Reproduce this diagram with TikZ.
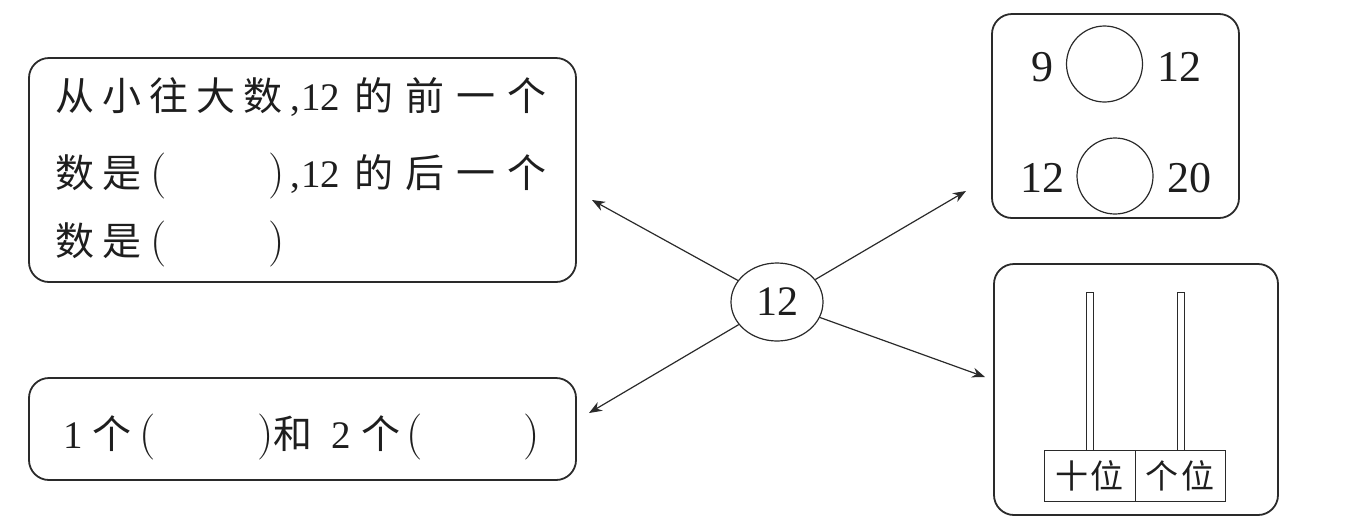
\documentclass[tikz,border=0pt]{standalone}
\usepackage{fontspec}
\setmainfont{Liberation Serif}
\newfontfamily\cjk{Noto Sans CJK SC}
\usetikzlibrary{arrows.meta,shapes.geometric}
\definecolor{ink}{HTML}{1E1E1E}
\definecolor{edge}{HTML}{2A2A2A}
\newcommand\zc[2]{\makebox[#1][c]{#2}}
\newcommand\fsz[1]{\fontsize{#1}{#1}\selectfont}
\newcommand\lmpar{\usefont{TU}{lmr}{m}{n}}
\begin{document}
\begin{tikzpicture}[x=0.5pt,y=-0.5pt,
  panel/.style={draw=edge,line width=0.9pt,rounded corners=10pt,inner sep=0},
  conn/.style={draw=edge,line width=0.6pt,-{Stealth[length=6.5pt,width=5pt]}},
  cj/.style={inner sep=0,text=ink,font=\cjk\fsz{19.5pt}},
  nm/.style={inner sep=0,text=ink,font=\fsz{19.5pt}},
  pr/.style={inner sep=0,text=ink,font=\lmpar\fsz{23pt}},
  big/.style={inner sep=0,text=ink,font=\fsz{22pt}},
  ring/.style={draw=edge,circle,line width=0.6pt,minimum size=38pt,inner sep=0},
  rod/.style={draw=edge,line width=0.4pt,inner sep=0,minimum width=3.5pt,minimum height=79pt},
  lab/.style={draw=edge,line width=0.4pt,inner sep=0,minimum height=25.5pt,text=ink,font=\cjk\fsz{16.5pt}}]
\useasboundingbox (0,0) rectangle (1348,531);

% panels
\node[panel,minimum width=273.5pt,minimum height=112pt] (pA) at (302.5,170) {};
\node[panel,minimum width=273.5pt,minimum height=51pt] (pB) at (302.5,429) {};
\node[panel,minimum width=123.5pt,minimum height=102pt] (pC) at (1115.5,116) {};
\node[panel,minimum width=142pt,minimum height=125.5pt] (pD) at (1136,389.5) {};

% centre
\node[draw=edge,ellipse,line width=0.6pt,minimum width=46pt,minimum height=39pt,inner sep=0,text=ink,font=\fsz{21pt}] (c) at (777,302) {12};
\coordinate (tA) at (592,200);
\coordinate (tB) at (589,413);
\coordinate (tC) at (966,191);
\coordinate (tD) at (985,377);
\draw[conn] (c) -- (tA);
\draw[conn] (c) -- (tB);
\draw[conn] (c) -- (tC);
\draw[conn] (c) -- (tD);

% box A text
\node[cj,anchor=base west] (a1) at (51.5,110) {\zc{23.5pt}{从}\zc{23.5pt}{小}\zc{23.5pt}{往}\zc{23.5pt}{大}\zc{23.5pt}{数}};
\node[nm,anchor=base west] (a2) at (290,110) {,\kern0.5pt 12};
\node[cj,anchor=base west] (a3) at (348.5,110) {\zc{25.5pt}{的}\zc{25.5pt}{前}\zc{25.5pt}{一}\zc{25.5pt}{个}};

\node[cj,anchor=base west] (b1) at (51.5,187) {\zc{23.5pt}{数}\zc{23.5pt}{是}};
\node[pr,anchor=base] (b2) at (159,187) {(};
\node[pr,anchor=base] (b3) at (277,187) {)};
\node[nm,anchor=base west] (b4) at (290,187) {,\kern0.5pt 12};
\node[cj,anchor=base west] (b5) at (348.5,187) {\zc{25.5pt}{的}\zc{25.5pt}{后}\zc{25.5pt}{一}\zc{25.5pt}{个}};

\node[cj,anchor=base west] (c1) at (51.5,255) {\zc{23.5pt}{数}\zc{23.5pt}{是}};
\node[pr,anchor=base] (c2) at (159,255) {(};
\node[pr,anchor=base] (c3) at (277,255) {)};

% box B text
\node[nm,anchor=base] (d1) at (73,448) {1};
\node[cj,anchor=base] (d2) at (112,448) {个};
\node[pr,anchor=base] (d3) at (148,448) {(};
\node[pr,anchor=base] (d4) at (266,448) {)};
\node[cj,anchor=base] (d5) at (293,448) {和};
\node[nm,anchor=base] (d6) at (341,448) {2};
\node[cj,anchor=base] (d7) at (381,448) {个};
\node[pr,anchor=base] (d8) at (415,448) {(};
\node[pr,anchor=base] (d9) at (532,448) {)};

% box C
\node[ring] (o1) at (1104.5,64) {};
\node[ring] (o2) at (1115,176) {};
\node[big] (n1) at (1042,67) {9};
\node[big] (n2) at (1179,67) {12};
\node[big] (n3) at (1042,178) {12};
\node[big] (n4) at (1189,178) {20};

% box D
\node[rod] (r1) at (1089.5,371) {};
\node[rod] (r2) at (1181,371) {};
\node[lab,minimum width=45.5pt] (l1) at (1089.5,475.5) {十\kern1.5pt位};
\node[lab,minimum width=45pt] (l2) at (1180,475.5) {个\kern1.5pt位};
\end{tikzpicture}
\end{document}
